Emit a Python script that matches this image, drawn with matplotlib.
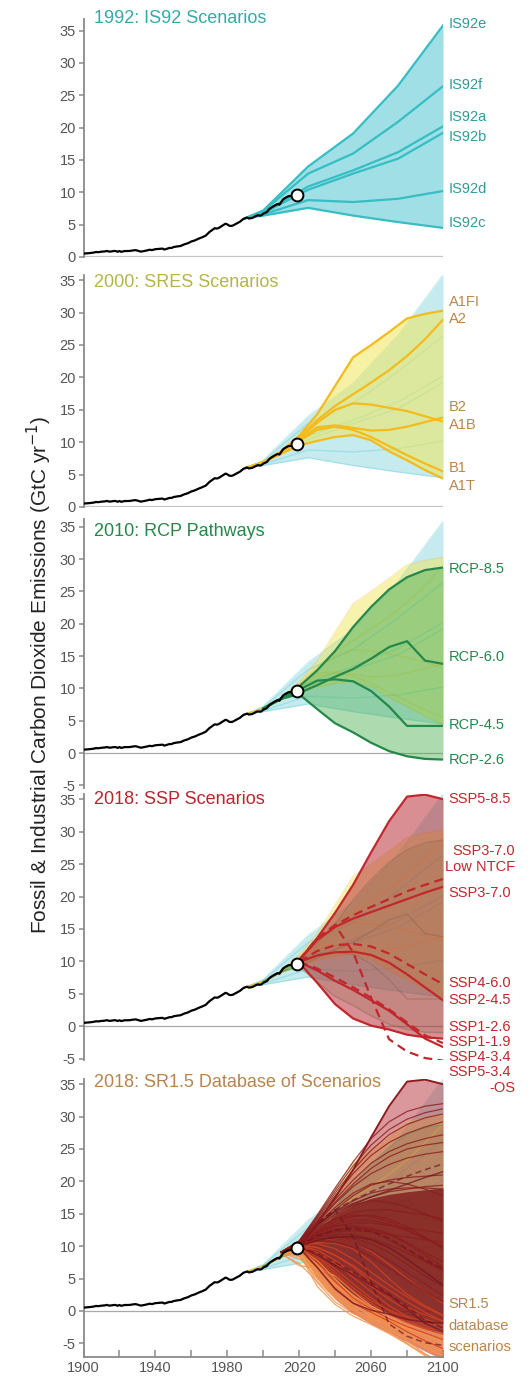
import matplotlib.pyplot as plt
import numpy as np

plt.rcParams['font.family'] = ['Liberation Sans', 'DejaVu Sans']
plt.rcParams['axes.unicode_minus'] = False

# observed fossil & industrial CO2 emissions (GtC/yr)
hist_years = [1900, 1902, 1904, 1906, 1907, 1908, 1910, 1912, 1913, 1914, 1915, 1917, 1918, 1919,
              1920, 1921, 1923, 1924, 1926, 1927, 1929, 1930, 1931, 1932, 1934, 1936, 1937, 1938,
              1940, 1941, 1943, 1944, 1945, 1946, 1948, 1949, 1950, 1952, 1954, 1956, 1958, 1960,
              1962, 1964, 1966, 1968, 1970, 1971, 1973, 1974, 1975, 1977, 1979, 1980, 1981, 1982,
              1983, 1985, 1987, 1989, 1990, 1991, 1992, 1994, 1996, 1997, 1998, 1999, 2000, 2002,
              2003, 2004, 2006, 2008, 2009, 2010, 2011, 2012, 2014, 2016, 2018]
hist_vals = [0.53, 0.57, 0.62, 0.70, 0.78, 0.74, 0.82, 0.87, 0.94, 0.85, 0.84, 0.93, 0.92, 0.80,
             0.93, 0.80, 0.93, 0.92, 0.94, 1.00, 1.06, 0.99, 0.90, 0.83, 0.94, 1.06, 1.13, 1.06,
             1.21, 1.23, 1.28, 1.30, 1.15, 1.24, 1.41, 1.39, 1.53, 1.63, 1.70, 1.95, 2.12, 2.40,
             2.57, 2.83, 3.05, 3.30, 3.85, 4.05, 4.45, 4.40, 4.45, 4.80, 5.15, 5.05, 4.85, 4.80,
             4.85, 5.15, 5.45, 5.90, 6.00, 6.10, 5.95, 6.05, 6.35, 6.45, 6.40, 6.45, 6.70, 6.95,
             7.30, 7.55, 7.90, 8.20, 8.10, 8.50, 8.90, 9.10, 9.40, 9.45, 9.60]
now_year, now_val = 2019, 9.65

# 1992: IS92
is92_years = [1990, 2000, 2025, 2050, 2075, 2100]
is92_names = ['IS92e', 'IS92f', 'IS92a', 'IS92b', 'IS92d', 'IS92c']
is92_vals = [[6.0, 7.2, 14.0, 19.1, 26.5, 35.8],
             [6.0, 7.1, 12.9, 16.0, 20.9, 26.4],
             [6.0, 6.9, 10.9, 13.4, 16.2, 20.2],
             [6.0, 6.8, 10.4, 12.9, 15.2, 19.2],
             [6.0, 6.6, 8.8, 8.5, 9.0, 10.2],
             [6.0, 6.4, 7.6, 6.4, 5.4, 4.5]]
is92_label_y = [36.0, 26.6, 21.6, 18.6, 10.5, 5.3]

# 2000: SRES
sres_years = [1990, 2000, 2010, 2020, 2030, 2040, 2050, 2060, 2070, 2080, 2090, 2100]
sres_names = ['A1FI', 'A2', 'B2', 'A1B', 'B1', 'A1T']
sres_vals = [[6.0, 6.9, 8.6, 11.0, 14.3, 18.7, 23.1, 25.0, 27.0, 29.1, 29.8, 30.3],
             [6.0, 6.9, 8.5, 10.7, 13.4, 15.6, 17.4, 19.2, 21.1, 23.3, 25.9, 28.9],
             [6.0, 6.9, 8.4, 10.6, 13.0, 15.0, 16.0, 15.8, 15.3, 14.8, 14.0, 13.2],
             [6.0, 6.9, 8.4, 10.4, 12.3, 12.6, 12.2, 11.8, 11.9, 12.4, 13.1, 13.8],
             [6.0, 6.9, 8.3, 10.2, 11.9, 12.4, 11.9, 10.8, 9.4, 8.0, 6.7, 5.5],
             [6.0, 6.9, 8.2, 9.5, 10.2, 10.8, 11.1, 10.3, 8.6, 7.2, 5.7, 4.4]]
sres_label_y = [31.6, 29.0, 15.5, 12.6, 6.0, 3.2]

# 2010: RCP
rcp_years = [2000, 2010, 2020, 2030, 2040, 2050, 2060, 2070, 2080, 2090, 2100]
rcp_names = ['RCP-8.5', 'RCP-6.0', 'RCP-4.5', 'RCP-2.6']
rcp_vals = [[6.9, 8.5, 10.3, 12.8, 15.8, 19.5, 22.6, 25.3, 27.2, 28.3, 28.7],
            [6.9, 8.4, 9.3, 10.5, 11.8, 13.0, 14.6, 16.4, 17.3, 14.3, 13.8],
            [6.9, 8.4, 9.8, 11.2, 11.4, 11.1, 9.6, 7.2, 4.2, 4.2, 4.2],
            [6.9, 8.4, 9.1, 6.8, 4.6, 3.2, 1.6, 0.3, -0.5, -0.9, -1.0]]
rcp_label_y = [28.5, 14.8, 4.3, -1.0]

# 2018: SSP
ssp_years = [2020, 2030, 2040, 2050, 2060, 2070, 2080, 2090, 2100]
ssp_names = ['SSP5-8.5', 'SSP3-7.0 Low NTCF', 'SSP3-7.0', 'SSP4-6.0', 'SSP2-4.5',
             'SSP1-2.6', 'SSP1-1.9', 'SSP4-3.4', 'SSP5-3.4-OS']
ssp_dashed = [False, True, False, True, False, False, False, True, True]
ssp_vals = [[10.2, 13.6, 17.5, 21.8, 26.8, 31.6, 35.4, 35.7, 35.0],
            [10.2, 13.5, 15.6, 17.1, 18.4, 19.6, 20.8, 21.8, 22.7],
            [10.2, 13.3, 15.3, 16.6, 17.6, 18.6, 19.6, 20.6, 21.5],
            [10.0, 11.6, 12.5, 12.7, 12.3, 11.2, 9.6, 8.0, 6.5],
            [9.9, 10.9, 11.4, 11.5, 11.0, 9.8, 8.0, 6.0, 4.0],
            [9.9, 8.6, 7.0, 5.6, 4.0, 2.4, 0.3, -1.9, -3.2],
            [9.8, 6.7, 3.4, 1.2, 0.1, -0.5, -1.3, -1.7, -1.9],
            [9.9, 8.9, 7.5, 6.0, 4.4, 2.6, 0.6, -1.4, -2.6],
            [10.2, 13.6, 15.6, 11.4, 4.4, -2.0, -3.9, -4.9, -5.3]]
ssp_label_text = ['SSP5-8.5', 'SSP3-7.0', 'SSP4-6.0', 'SSP2-4.5', 'SSP1-2.6',
                  'SSP1-1.9', 'SSP4-3.4', 'SSP5-3.4']
ssp_label_y = [35.0, 20.5, 6.7, 4.1, -0.1, -2.4, -4.7, -7.1]
ssp_right_text = ['SSP3-7.0', 'Low NTCF', '-OS']
ssp_right_y = [27.0, 24.5, -9.5]

# 2018: SR1.5 database pathways
sr15_years = [2010, 2020, 2030, 2040, 2050, 2060, 2070, 2080, 2090, 2100]
sr15_low = [[8.9, 9.4, 5.2, 2.6, 0.8, -0.6, -1.7, -2.7, -3.6, -4.4],
            [9.0, 9.2, 4.4, 1.4, -0.4, -1.6, -2.9, -4.2, -5.6, -7.0],
            [9.0, 8.6, 5.6, 3.0, 1.0, -0.8, -2.6, -4.6, -6.6, -8.2],
            [8.9, 7.0, 6.6, 4.0, 2.0, 0.2, -1.2, -2.5, -3.6, -4.8],
            [9.1, 9.4, 6.0, 3.4, 1.4, -0.1, -1.6, -3.0, -4.3, -5.6],
            [9.0, 8.9, 3.8, 1.0, -0.8, -2.1, -3.5, -5.1, -6.9, -8.6],
            [9.1, 9.8, 7.2, 4.8, 2.4, 0.4, -1.0, -2.1, -2.9, -3.5],
            [9.0, 8.0, 6.8, 5.4, 3.0, 0.8, -0.6, -1.8, -2.8, -3.8],
            [8.8, 7.3, 4.6, 2.0, 0.2, -1.2, -2.4, -3.7, -5.1, -6.4],
            [9.1, 9.5, 5.8, 2.2, 0.0, -1.0, -2.0, -2.8, -3.6, -4.2],
            [9.0, 9.3, 6.4, 3.8, 1.6, -0.4, -2.2, -3.9, -5.4, -6.8],
            [9.1, 9.6, 7.8, 5.0, 2.2, 0.0, -1.8, -3.4, -4.9, -6.0],
            [8.9, 8.4, 5.0, 2.4, 0.4, -1.4, -3.2, -5.0, -6.7, -8.0],
            [9.0, 9.7, 6.9, 4.2, 1.9, 0.1, -1.3, -2.6, -3.9, -5.1]]
sr15_mid = [[9.1, 9.9, 8.0, 5.6, 3.2, 1.2, -0.5, -1.8, -2.8, -3.6],
            [9.1, 10.0, 8.6, 6.5, 4.2, 2.0, 0.0, -1.4, -2.6, -3.0],
            [9.0, 9.7, 7.5, 4.6, 2.0, 0.3, -1.2, -2.4, -3.4, -4.4],
            [9.1, 10.1, 9.0, 7.4, 5.2, 3.0, 0.8, -0.8, -1.8, -2.4],
            [9.1, 9.9, 8.4, 6.0, 3.6, 1.6, 0.2, -1.0, -2.2, -3.2],
            [9.0, 9.6, 6.8, 3.4, 1.2, -0.2, -1.6, -3.2, -4.6, -5.8],
            [9.1, 10.2, 9.8, 8.6, 6.8, 4.4, 2.2, 0.6, -0.6, -1.6],
            [9.1, 10.1, 10.6, 10.4, 9.6, 7.6, 5.0, 2.6, 0.8, -0.6],
            [9.1, 10.2, 9.8, 8.6, 7.0, 5.0, 3.2, 1.4, -0.2, -1.6],
            [9.1, 10.1, 9.4, 7.8, 5.8, 3.8, 1.8, 0.2, -1.2, -2.2],
            [9.1, 10.3, 11.0, 11.2, 10.6, 9.2, 7.2, 5.0, 3.0, 1.2],
            [9.1, 10.2, 10.4, 9.6, 8.0, 6.0, 4.0, 2.2, 0.6, -0.8]]
sr15_high = [[9.1, 10.3, 11.0, 11.4, 11.2, 10.4, 9.0, 7.2, 5.4, 3.8],
             [9.1, 10.4, 11.8, 12.6, 13.0, 12.8, 12.0, 10.6, 9.0, 7.6],
             [9.1, 10.5, 12.6, 14.2, 15.2, 15.6, 15.6, 15.2, 14.8, 14.2],
             [9.1, 10.6, 13.2, 15.6, 17.8, 19.4, 20.2, 20.6, 20.8, 21.0],
             [9.1, 10.7, 14.0, 17.2, 20.2, 22.8, 24.6, 25.8, 26.6, 27.2],
             [9.1, 10.8, 14.6, 18.6, 22.4, 25.6, 28.0, 29.6, 30.6, 31.2],
             [9.1, 10.4, 12.2, 13.4, 14.0, 14.0, 13.4, 12.4, 11.2, 10.0],
             [9.1, 10.3, 11.4, 11.8, 11.8, 11.2, 10.2, 9.0, 7.6, 6.2],
             [9.1, 10.6, 13.4, 16.0, 18.2, 19.6, 20.0, 19.6, 18.8, 17.8],
             [9.1, 10.5, 12.8, 14.8, 16.4, 17.6, 18.4, 18.8, 19.2, 19.4],
             [9.1, 10.7, 14.2, 17.8, 21.2, 24.0, 26.0, 27.4, 28.4, 29.2],
             [9.1, 10.2, 10.8, 10.6, 9.8, 8.4, 6.6, 4.8, 3.0, 1.4],
             [9.1, 10.3, 11.2, 11.2, 10.6, 9.4, 7.8, 6.0, 4.2, 2.4],
             [9.1, 10.6, 13.0, 15.0, 16.4, 17.0, 16.8, 16.0, 15.0, 13.8],
             [9.1, 10.4, 12.0, 13.0, 13.6, 13.6, 13.2, 12.8, 12.4, 12.0],
             [9.1, 10.8, 14.8, 19.0, 23.0, 26.6, 29.2, 30.8, 31.6, 32.0],
             [9.1, 10.5, 12.4, 13.8, 14.6, 14.8, 14.2, 13.0, 11.4, 9.6],
             [9.1, 10.6, 13.6, 16.6, 19.2, 21.2, 22.6, 23.6, 24.2, 24.6],
             [9.1, 10.3, 11.6, 12.2, 12.4, 12.2, 11.8, 11.4, 11.0, 10.6],
             [9.1, 10.7, 13.8, 16.8, 19.6, 22.0, 23.8, 25.0, 25.6, 26.0],
             [9.1, 10.5, 12.2, 13.2, 13.2, 12.4, 11.0, 9.4, 7.8, 6.4],
             [9.1, 10.4, 11.6, 12.4, 12.8, 12.6, 11.8, 10.4, 8.6, 6.8],
             [9.1, 10.6, 12.8, 14.2, 14.8, 14.6, 13.8, 12.6, 11.2, 9.8],
             [9.1, 10.8, 14.4, 18.2, 21.8, 24.8, 27.2, 28.8, 29.8, 30.4],
             [9.1, 10.6, 13.2, 15.4, 17.0, 18.2, 18.8, 19.0, 19.0, 18.8]]
# dense part of the SR1.5 ensemble
core_years = [2020, 2030, 2040, 2050, 2060, 2070, 2080, 2090, 2100]
core_lo = [9.6, 7.4, 4.8, 2.6, 0.9, -0.6, -1.8, -2.8, -3.6]
core_hi = [10.0, 12.6, 14.8, 16.4, 17.4, 18.0, 18.4, 18.7, 19.0]
band_lo = [9.4, 5.0, 1.8, -0.4, -2.0, -3.4, -4.8, -6.2, -7.5]

titles = ['1992: IS92 Scenarios', '2000: SRES Scenarios', '2010: RCP Pathways',
          '2018: SSP Scenarios', '2018: SR1.5 Database of Scenarios']
title_y = [36.9, 34.6, 34.3, 34.9, 35.2]
title_cols = ['#35a9a9', '#b3b54a', '#23884a', '#b8252c', '#b8844c']

teal, teal_fill, teal_txt = '#35bec4', '#9fdfe5', '#2e9c9a'
gold, yel_fill, sres_txt = '#f5bb1c', '#f0e65a', '#b8864c'
green, green_fill = '#23884a', '#4caf50'
red, red_fill = '#c1272d', '#b8323a'

fig = plt.figure(figsize=(5.31, 13.77), dpi=100)
H = 1377.0
x0, x1 = 83.5 / 531, 443.0 / 531
panel_px = [(19, 257), (275, 507), (519, 788), (794, 1060), (1079, 1357)]
panel_ylim = [(0, 36.8), (0, 35.8), (-5.4, 36.2), (-5.2, 35.8), (-7.1, 35.8)]
axes = [fig.add_axes([x0, 1 - b / H, x1 - x0, (b - t) / H]) for t, b in panel_px]


def band(ax, years, vals, fcol, lcol, falpha, lalpha, lw, z, dashed=None, lo=None, hi=None):
    arr = np.array(vals)
    if lo is None:
        lo, hi = arr.min(axis=0), arr.max(axis=0)
    ax.fill_between(years, lo, hi, color=fcol, alpha=falpha, lw=0, zorder=z)
    for i, v in enumerate(vals):
        ls = (0, (4, 2.5)) if dashed is not None and dashed[i] else '-'
        ax.plot(years, v, color=lcol, lw=lw, alpha=lalpha, ls=ls, zorder=z + 0.5,
                solid_joinstyle='round')


for k, ax in enumerate(axes):
    ax.set_xlim(1900, 2100)
    ax.set_ylim(*panel_ylim[k])
    ax.patch.set_visible(False)
    for s in ['top', 'right']:
        ax.spines[s].set_visible(False)
    ax.spines['left'].set_color('#8a8a8a')
    ax.spines['left'].set_linewidth(1.3)
    if k < 4:
        ax.spines['bottom'].set_visible(False)
        ax.set_xticks([])
    else:
        ax.spines['bottom'].set_color('#8a8a8a')
        ax.spines['bottom'].set_linewidth(1.3)
        ax.set_xticks(range(1900, 2101, 20))
        ax.set_xticklabels([str(y) if (y - 1900) % 40 == 0 else '' for y in range(1900, 2101, 20)])
        ax.tick_params(axis='x', direction='in', length=5, width=1.1, color='#8a8a8a',
                       labelsize=10.5, labelcolor='#555555', pad=3)
    ax.set_yticks(range(0, 36, 5) if k < 2 else range(-5, 36, 5))
    ax.tick_params(axis='y', direction='out', length=3.5, width=1.1, color='#8a8a8a',
                   labelsize=10.5, labelcolor='#555555', pad=2)
    if k < 2:
        ax.axhline(0, color='#c4c4c4', lw=1.6, zorder=0.5)
    else:
        ax.axhline(0, color='#a8a8a8', lw=0.9, zorder=0.5)

    # earlier generations in the background, current one on top
    if k == 0:
        band(ax, is92_years, is92_vals, teal_fill, teal, 1.0, 1.0, 1.6, 2)
    else:
        band(ax, is92_years, is92_vals, teal_fill, teal, 0.6, 0.25, 1.0, 1)
    if k == 1:
        band(ax, sres_years, sres_vals, yel_fill, gold, 0.55, 1.0, 1.6, 3)
    elif k > 1:
        band(ax, sres_years, sres_vals, yel_fill, gold, 0.5, 0.3, 1.0, 1.2)
    if k == 2:
        band(ax, rcp_years, rcp_vals, green_fill, green, 0.45, 1.0, 1.6, 3)
    elif k > 2:
        band(ax, rcp_years, rcp_vals, green_fill, green, 0.22, 0.3, 1.0, 1.4)
    if k == 3:
        band(ax, ssp_years, ssp_vals, red_fill, red, 0.55, 1.0, 1.6, 3, dashed=ssp_dashed,
             lo=ssp_vals[6], hi=ssp_vals[0])
    elif k == 4:
        ax.fill_between(ssp_years, ssp_vals[6], ssp_vals[0], color=red_fill, alpha=0.5, lw=0, zorder=1.6)
        ax.plot(ssp_years, ssp_vals[0], color='#8e1b1f', lw=1.4, zorder=5)

    if k == 4:
        ax.fill_between(core_years, band_lo, core_lo, color='#d9542a', alpha=0.7, lw=0, zorder=2)
        ax.fill_between(core_years, core_lo, core_hi, color='#82201f', alpha=0.85, lw=0, zorder=2.1)
        for v in sr15_low:
            ax.plot(sr15_years, v, color='#f3944c', lw=0.9, alpha=0.85, zorder=2.5)
        for v in sr15_mid:
            ax.plot(sr15_years, v, color='#d4401f', lw=0.9, alpha=0.85, zorder=2.6)
        for v in sr15_high:
            ax.plot(sr15_years, v, color='#8a1d1d', lw=0.9, alpha=0.8, zorder=2.7)
        for i, v in enumerate(ssp_vals[1:], start=1):
            ls = (0, (4, 2.5)) if ssp_dashed[i] else '-'
            ax.plot(ssp_years, v, color='#6e1322', lw=1.1, alpha=0.7, ls=ls, zorder=3)

    ax.plot(hist_years, hist_vals, color='black', lw=1.6, zorder=10, solid_joinstyle='round')
    ax.plot(now_year, now_val, 'o', ms=8.5, mfc='white', mec='black', mew=1.4, zorder=11)
    ax.text(1905.8, title_y[k], titles[k], color=title_cols[k], fontsize=13, va='center', zorder=12)

lab_x = 2103.2
for name, y in zip(is92_names, is92_label_y):
    axes[0].text(lab_x, y, name, color=teal_txt, fontsize=10.5, va='center')
for name, y in zip(sres_names, sres_label_y):
    axes[1].text(lab_x, y, name, color=sres_txt, fontsize=10.5, va='center')
for name, y in zip(rcp_names, rcp_label_y):
    axes[2].text(lab_x, y, name, color=green, fontsize=10.5, va='center')
for name, y in zip(ssp_label_text, ssp_label_y):
    axes[3].text(lab_x, y, name, color=red, fontsize=10.5, va='center', clip_on=False)
for name, y in zip(ssp_right_text, ssp_right_y):
    axes[3].text(2140, y, name, color=red, fontsize=10.5, va='center', ha='right', clip_on=False)
for name, y in zip(['SR1.5', 'database', 'scenarios'], [1.1, -2.3, -5.6]):
    axes[4].text(lab_x, y, name, color=sres_txt, fontsize=10.5, va='center')

fig.text(39 / 531, 1 - 675 / H, 'Fossil & Industrial Carbon Dioxide Emissions (GtC yr$^{-1}$)',
         rotation=90, fontsize=15, va='center', ha='center', color='#222222')

fig.savefig('out.png', dpi=100)
